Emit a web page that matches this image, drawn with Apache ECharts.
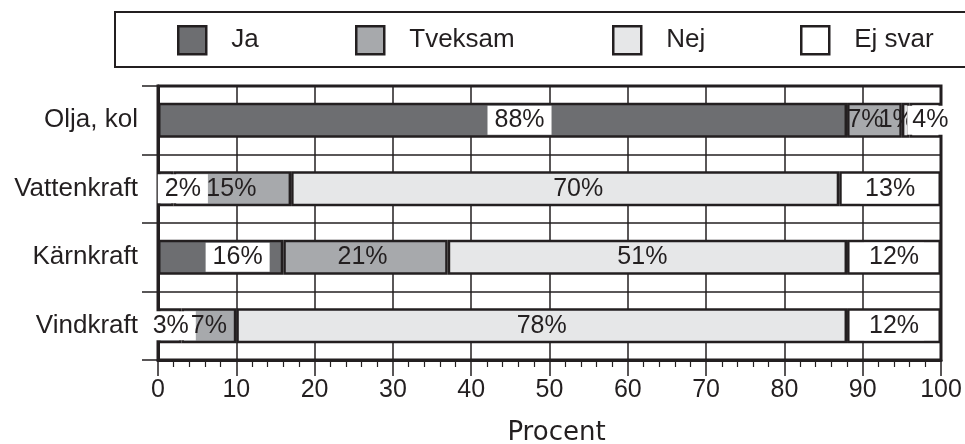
<!DOCTYPE html>
<html>
<head>
<meta charset="utf-8">
<script src="https://cdn.jsdelivr.net/npm/echarts@6/dist/echarts.min.js"></script>
<style>html,body{margin:0;padding:0;background:#fff;}#c{width:965px;height:444px;}</style>
</head>
<body>
<div id="c"></div>
<script>
const categories = ['Olja, kol', 'Vattenkraft', 'Kärnkraft', 'Vindkraft'];
const seriesNames = ['Ja', 'Tveksam', 'Nej', 'Ej svar'];
const ja = [88, 2, 16, 3];
const tveksam = [7, 15, 21, 7];
const nej = [1, 70, 51, 78];
const ejSvar = [4, 13, 12, 12];
const axisName = 'Procent';

const INK = '#231f20';
const FILLS = ['#6d6e71', '#a7a9ac', '#e6e7e8', '#ffffff'];
// label nudges (px) per series, per category
const shifts = [
  [17, 17, 17, 1],
  [-9, -1, -3, 0],
  [-9, 13, -5, 0],
  [5, 0, 0, 0]
];
const whiteBox = [true, false, false, true];
const pads = [[2, 7], null, null, [2, 5]];
const values = [ja, tveksam, nej, ejSvar];

const series = seriesNames.map((name, si) => ({
  name: name,
  type: 'bar',
  stack: 'total',
  barWidth: 35,
  itemStyle: { color: FILLS[si], borderColor: INK, borderWidth: 2.5 },
  label: Object.assign({
    show: true,
    position: 'inside',
    formatter: '{c}%',
    fontSize: 25,
    fontFamily: 'Liberation Sans',
    color: INK
  }, whiteBox[si] ? { backgroundColor: '#fff', padding: pads[si] } : {}),
  data: values[si].map((v, ci) => ({ value: v, label: { offset: [shifts[si][ci], 0] } }))
}));

const legendLeft = [177, 355, 612, 800];
const legends = seriesNames.map((n, i) => ({
  data: [n],
  left: legendLeft[i],
  top: 25,
  padding: 0,
  itemWidth: 28,
  itemHeight: 28,
  icon: 'rect',
  selectedMode: false,
  itemStyle: { borderColor: INK, borderWidth: 2.5 },
  textStyle: { fontSize: 26, fontFamily: 'Liberation Sans', color: INK, padding: [0, 0, 0, 20] }
}));

const chart = echarts.init(document.getElementById('c'), null, { renderer: 'canvas' });
chart.setOption({
  animation: false,
  backgroundColor: '#fff',
  graphic: [{
    type: 'rect',
    shape: { x: 115, y: 12, width: 900, height: 55 },
    style: { fill: 'none', stroke: INK, lineWidth: 2 },
    z: -1
  }],
  legend: legends,
  grid: {
    left: 158, right: 24, top: 86, bottom: 84,
    outerBoundsMode: 'none',
    containLabel: false,
    show: true, borderColor: INK, borderWidth: 3, backgroundColor: 'transparent'
  },
  xAxis: {
    type: 'value',
    min: 0, max: 100, interval: 10,
    name: axisName,
    nameLocation: 'middle',
    nameGap: 60,
    nameTextStyle: { fontSize: 26, fontFamily: 'DejaVu Sans', color: INK, padding: [0, 0, 0, 14] },
    axisLine: { show: true, lineStyle: { color: INK, width: 3 } },
    axisTick: { show: true, length: 16, lineStyle: { color: INK, width: 1.5 } },
    minorTick: { show: true, splitNumber: 5, length: 7, lineStyle: { color: INK, width: 1.2 } },
    splitLine: { show: true, lineStyle: { color: INK, width: 1.5 } },
    axisLabel: { fontSize: 25, fontFamily: 'Liberation Sans', color: INK, margin: 18 }
  },
  yAxis: {
    type: 'category',
    data: categories,
    inverse: true,
    axisLine: { show: true, lineStyle: { color: INK, width: 3 } },
    axisTick: { show: true, length: 16, lineStyle: { color: INK, width: 1.5 } },
    splitLine: { show: true, lineStyle: { color: INK, width: 1.5 } },
    axisLabel: { fontSize: 26, fontFamily: 'Liberation Sans', color: INK, margin: 20 }
  },
  series: series
});
</script>
</body>
</html>
